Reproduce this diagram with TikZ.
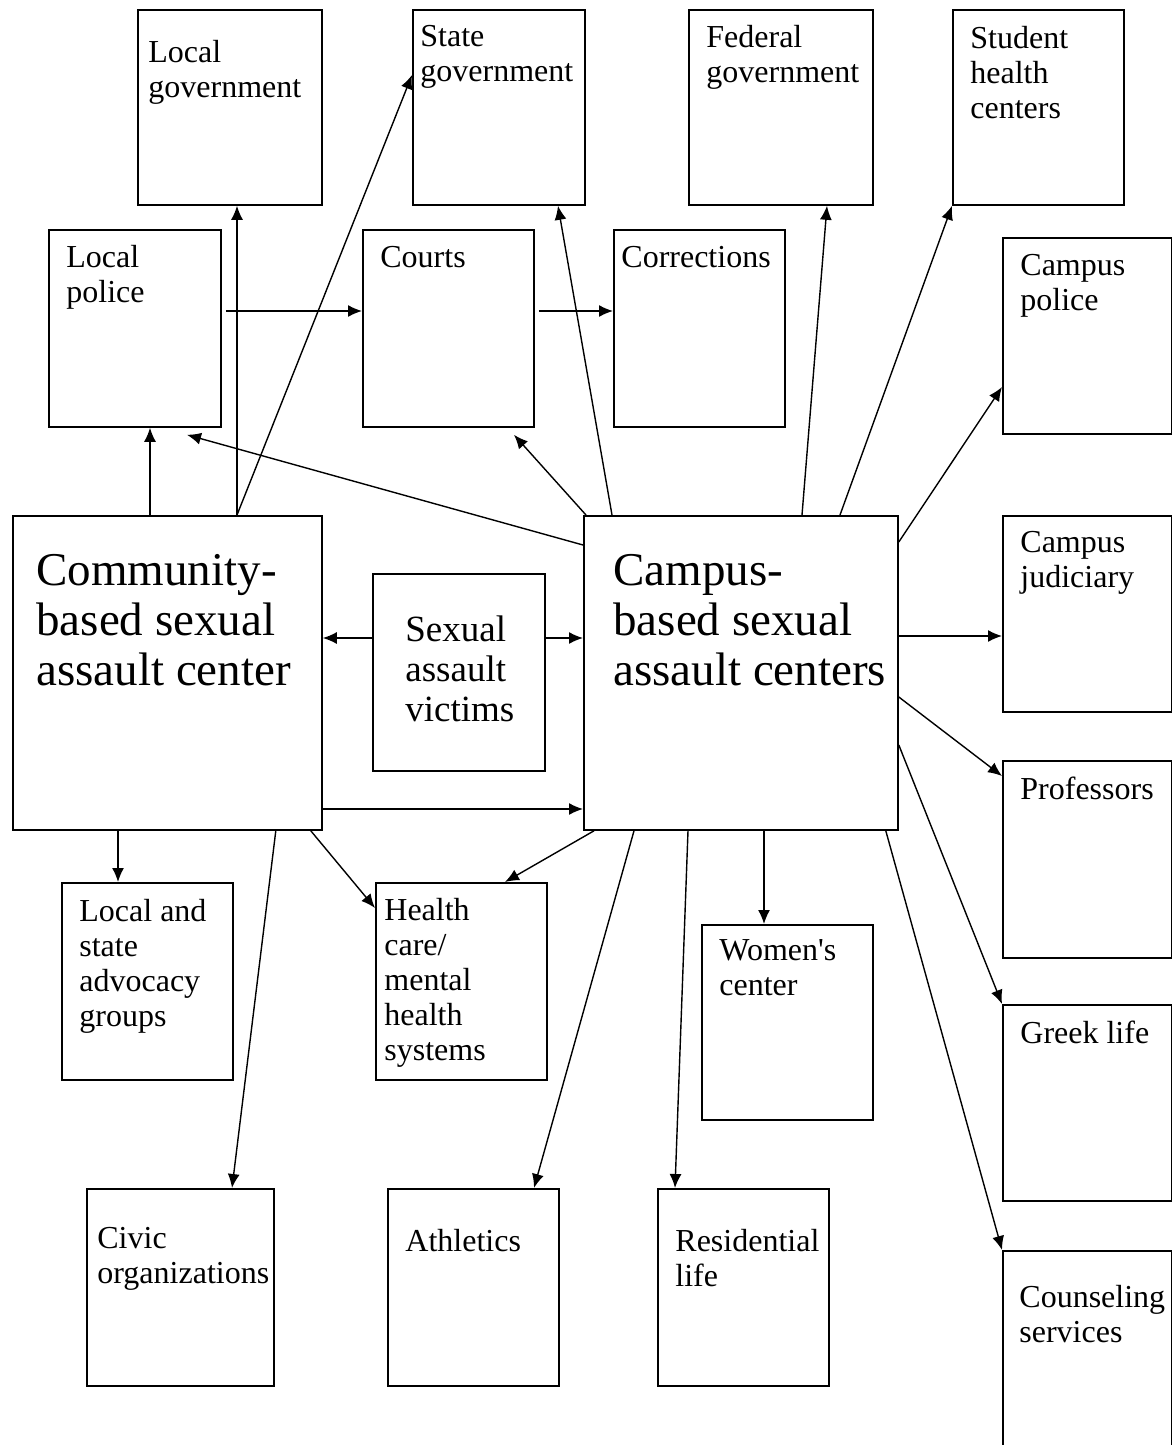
\documentclass[tikz,border=0pt]{standalone}
\usepackage{fontspec}
\setmainfont{Liberation Serif}
\usetikzlibrary{arrows.meta}

\begin{document}
\begin{tikzpicture}[x=0.5pt, y=-0.5pt,
    >={Latex[length=7pt,width=6pt]},
    box/.style={draw, line width=0.9pt, anchor=north west, inner sep=0pt},
    txt/.style={anchor=north west, inner sep=0pt, align=left, font=\fontsize{16}{17.5}\selectfont},
    bigtxt/.style={anchor=north west, inner sep=0pt, align=left, font=\fontsize{23.5}{25}\selectfont},
    midtxt/.style={anchor=north west, inner sep=0pt, align=left, font=\fontsize{18.5}{20}\selectfont},
    link/.style={->, line width=0.7pt}]
    \useasboundingbox (0,0) rectangle (1172,1445);

    % Define boxes
    \node (lgov) at (137,9) [box, minimum width=92pt, minimum height=97.5pt] {};
    \node (sgov) at (412,9) [box, minimum width=86pt, minimum height=97.5pt] {};
    \node (fgov) at (688,9) [box, minimum width=92pt, minimum height=97.5pt] {};
    \node (shc) at (952,9) [box, minimum width=85.5pt, minimum height=97.5pt] {};
    \node (lpol) at (48,229) [box, minimum width=86pt, minimum height=98.5pt] {};
    \node (courts) at (362,229) [box, minimum width=85.5pt, minimum height=98.5pt] {};
    \node (corr) at (613,229) [box, minimum width=85.5pt, minimum height=98.5pt] {};
    \node (cpol) at (1002,237) [box, minimum width=84.5pt, minimum height=98pt] {};
    \node (comm) at (12,515) [box, minimum width=154.5pt, minimum height=157pt] {};
    \node (victims) at (372,573) [box, minimum width=86pt, minimum height=98.5pt] {};
    \node (campus) at (583,515) [box, minimum width=157pt, minimum height=157pt] {};
    \node (cjud) at (1002,515) [box, minimum width=84.5pt, minimum height=98pt] {};
    \node (prof) at (1002,760) [box, minimum width=84.5pt, minimum height=98.5pt] {};
    \node (advoc) at (61,882) [box, minimum width=85.5pt, minimum height=98.5pt] {};
    \node (health) at (375,882) [box, minimum width=85.5pt, minimum height=98.5pt] {};
    \node (women) at (701,924) [box, minimum width=85.5pt, minimum height=97.5pt] {};
    \node (greek) at (1002,1004) [box, minimum width=84.5pt, minimum height=98pt] {};
    \node (civic) at (86,1188) [box, minimum width=93.5pt, minimum height=98.5pt] {};
    \node (athl) at (387,1188) [box, minimum width=85.5pt, minimum height=98.5pt] {};
    \node (resid) at (657,1188) [box, minimum width=85.5pt, minimum height=98.5pt] {};
    \node (couns) at (1002,1250) [box, minimum width=84.5pt, minimum height=100pt] {};

    % Define labels
    \node (lgovl) at (148,40) [txt] {Local\\government};
    \node (sgovl) at (420,25) [txt] {State\\government};
    \node (fgovl) at (706,25) [txt] {Federal\\government};
    \node (shcl) at (970,26) [txt] {Student\\health\\centers};
    \node (lpoll) at (66,245) [txt] {Local\\police};
    \node (courtsl) at (380,246) [txt] {Courts};
    \node (corrl) at (621,246) [txt] {Corrections};
    \node (cpoll) at (1020,254) [txt] {Campus\\police};
    \node (comml) at (36,554) [bigtxt] {Community-\\based sexual\\assault center};
    \node (victimsl) at (405,615) [midtxt] {Sexual\\assault\\victims};
    \node (campusl) at (613,554) [bigtxt] {Campus-\\based sexual\\assault centers};
    \node (cjudl) at (1020,531) [txt] {Campus\\judiciary};
    \node (profl) at (1020,777) [txt] {Professors};
    \node (advocl) at (79,899) [txt] {Local and\\state\\advocacy\\groups};
    \node (healthl) at (384,898) [txt] {Health\\care/\\mental\\health\\systems};
    \node (womenl) at (719,939) [txt] {Women\textquotesingle s\\center};
    \node (greekl) at (1020,1021) [txt] {Greek life};
    \node (civicl) at (97,1227) [txt] {Civic\\organizations};
    \node (athll) at (405,1229) [txt] {Athletics};
    \node (residl) at (675,1229) [txt] {Residential\\life};
    \node (counsl) at (1019,1285) [txt] {Counseling\\services};

    % Draw arrows
    \draw[link] ([shift={(138,0)}]comm.north west) -- ([shift={(102,0)}]lpol.south west);
    \draw[link] ([shift={(225,0)}]comm.north west) -- ([shift={(100,0)}]lgov.south west);
    \draw[link] ([shift={(225,0)}]comm.north west) -- ([shift={(0,66)}]sgov.north west);
    \draw[link] ([shift={(4,82)}]lpol.north east) -- ([shift={(0,82)}]courts.north west);
    \draw[link] ([shift={(4,82)}]courts.north east) -- ([shift={(0,82)}]corr.north west);
    \draw[link] ([shift={(0,30)}]campus.north west) -- ([shift={(139,7)}]lpol.south west);
    \draw[link] ([shift={(3,0)}]campus.north west) -- ([shift={(152,7)}]courts.south west);
    \draw[link] ([shift={(29,0)}]campus.north west) -- ([shift={(146,0)}]sgov.south west);
    \draw[link] ([shift={(219,0)}]campus.north west) -- ([shift={(139,0)}]fgov.south west);
    \draw[link] ([shift={(257,0)}]campus.north west) -- (shc.south west);
    \draw[link] ([shift={(0,27)}]campus.north east) -- ([shift={(0,150)}]cpol.north west);
    \draw[link] ([shift={(0,121)}]campus.north east) -- ([shift={(0,121)}]cjud.north west);
    \draw[link] ([shift={(0,182)}]campus.north east) -- ([shift={(0,16)}]prof.north west);
    \draw[link] ([shift={(0,230)}]campus.north east) -- (greek.north west);
    \draw[link] ([shift={(-13,0)}]campus.south east) -- (couns.north west);
    \draw[link] ([shift={(181,0)}]campus.south west) -- ([shift={(63,0)}]women.north west);
    \draw[link] ([shift={(105,0)}]campus.south west) -- ([shift={(18,0)}]resid.north west);
    \draw[link] ([shift={(51,0)}]campus.south west) -- ([shift={(147,0)}]athl.north west);
    \draw[link] ([shift={(11,0)}]campus.south west) -- ([shift={(130,0)}]health.north west);
    \draw[link] ([shift={(-12,0)}]comm.south east) -- ([shift={(0,26)}]health.north west);
    \draw[link] ([shift={(106,0)}]comm.south west) -- ([shift={(57,0)}]advoc.north west);
    \draw[link] ([shift={(-47,0)}]comm.south east) -- ([shift={(146,0)}]civic.north west);
    \draw[link] ([shift={(0,65)}]victims.north west) -- ([shift={(0,123)}]comm.north east);
    \draw[link] ([shift={(0,65)}]victims.north east) -- ([shift={(0,123)}]campus.north west);
    \draw[link] ([shift={(0,294)}]comm.north east) -- ([shift={(0,294)}]campus.north west);
\end{tikzpicture}
\end{document}
